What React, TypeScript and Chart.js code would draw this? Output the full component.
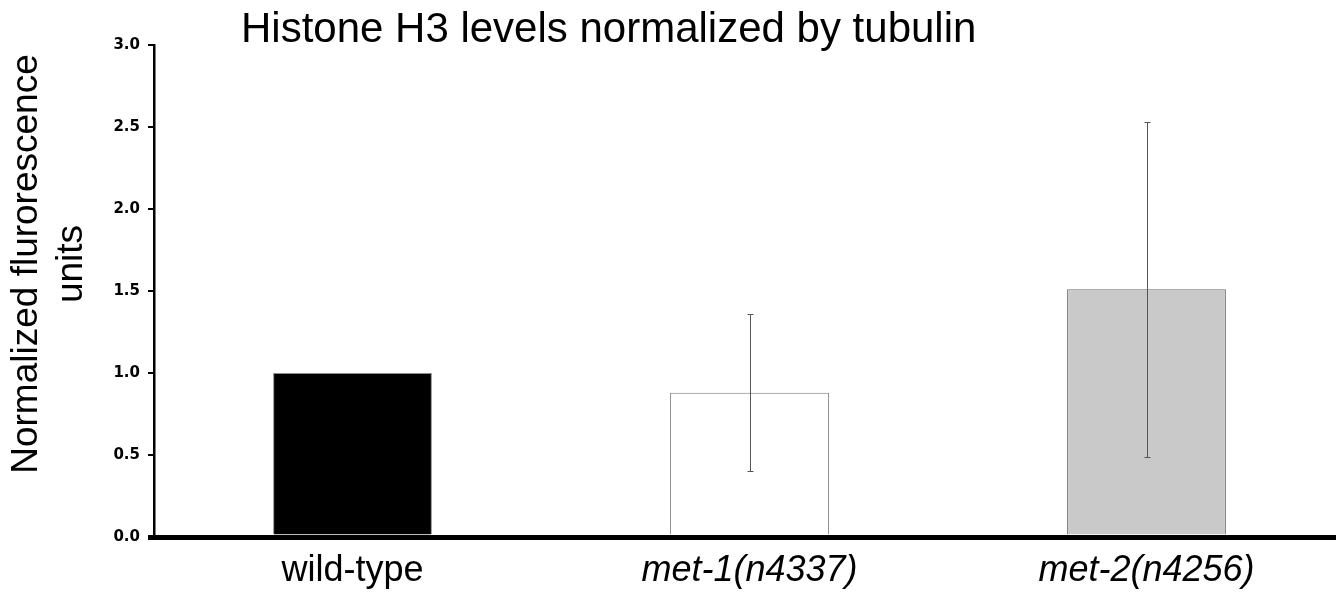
import React, { useEffect, useRef } from 'react';
import { Chart, registerables } from 'chart.js';

Chart.register(...registerables);

// ---- data ----
const categories = ['wild-type', 'met-1(n4337)', 'met-2(n4256)'];
const italicLabels = [false, true, true];
const means = [1.0, 0.88, 1.51];
const errors = [0, 0.48, 1.02];
const barColors = ['#000000', '#ffffff', '#c9c9c9'];
const barBorders = ['#8a8a8a', '#7a7a7a', '#6a6a6a'];
const yMin = 0;
const yMax = 3;
const yStep = 0.5;
const titleText = 'Histone H3 levels normalized by tubulin';
const yTitleLines = ['Normalized flurorescence', 'units'];

const SANS = '"Liberation Sans", Arial, Helvetica, sans-serif';

const textPlugin = {
  id: 'customTexts',
  afterDraw(chart: any) {
    const { ctx, chartArea } = chart;
    ctx.save();
    ctx.fillStyle = '#000000';
    ctx.textBaseline = 'alphabetic';
    ctx.textAlign = 'left';
    ctx.font = `42px ${SANS}`;
    ctx.fillText(titleText, chartArea.left + 87, 42);

    ctx.font = `37px ${SANS}`;
    ctx.textAlign = 'center';
    const cy = (chartArea.top + chartArea.bottom) / 2 - 27;
    ctx.rotate(-Math.PI / 2);
    ctx.fillText(yTitleLines[0], -cy, 37);
    ctx.fillText(yTitleLines[1], -cy, 82);
    ctx.restore();
  },
};

const errorBarPlugin = {
  id: 'errorBars',
  afterDatasetsDraw(chart: any) {
    const { ctx } = chart;
    const meta = chart.getDatasetMeta(0);
    const yScale = chart.scales.y;
    ctx.save();
    ctx.strokeStyle = '#555555';
    ctx.lineWidth = 1;
    meta.data.forEach((bar: any, i: number) => {
      const err = errors[i];
      if (!err) return;
      const x = Math.round(bar.x) + 0.5;
      const yTop = Math.round(yScale.getPixelForValue(means[i] + err)) + 0.5;
      const yBot = Math.round(yScale.getPixelForValue(means[i] - err)) + 0.5;
      const cap = 3;
      ctx.beginPath();
      ctx.moveTo(x, yTop);
      ctx.lineTo(x, yBot);
      ctx.moveTo(x - cap, yTop);
      ctx.lineTo(x + cap, yTop);
      ctx.moveTo(x - cap, yBot);
      ctx.lineTo(x + cap, yBot);
      ctx.stroke();
    });
    ctx.restore();
  },
};

export default function App() {
  const canvasRef = useRef<HTMLCanvasElement | null>(null);

  useEffect(() => {
    if (!canvasRef.current) return;
    const chart = new Chart(canvasRef.current, {
      type: 'bar',
      data: {
        labels: categories,
        datasets: [
          {
            data: means,
            backgroundColor: barColors,
            borderColor: barBorders,
            borderWidth: 1,
            barPercentage: 0.4,
            categoryPercentage: 1,
          },
        ],
      },
      options: {
        responsive: false,
        animation: false,
        devicePixelRatio: 1,
        layout: { padding: { top: 45, left: 0, right: 1, bottom: 0 } },
        plugins: {
          legend: { display: false },
          title: { display: false },
          tooltip: { enabled: false },
        },
        scales: {
          x: {
            type: 'category',
            offset: true,
            grid: { display: false, drawTicks: false },
            border: { display: true, color: '#000000', width: 5 },
            ticks: {
              color: '#000000',
              padding: 12,
              autoSkip: false,
              maxRotation: 0,
              minRotation: 0,
              font: (c: any) => ({
                family: SANS,
                size: 36,
                style: italicLabels[c.index] ? 'italic' : 'normal',
              }),
            },
            afterFit: (scale: any) => {
              scale.height = 60;
            },
          },
          y: {
            min: yMin,
            max: yMax,
            grid: {
              display: true,
              drawOnChartArea: false,
              drawTicks: true,
              tickLength: 6,
              color: '#000000',
              lineWidth: (c: any) => (c.index === 0 ? 5 : 2),
            },
            border: { display: true, color: '#000000', width: 2.5 },
            ticks: {
              stepSize: yStep,
              color: '#000000',
              padding: 8,
              font: { family: '"DejaVu Sans", sans-serif', size: 15, weight: 'bold' },
              callback: (v: any) => Number(v).toFixed(1),
            },
            afterFit: (scale: any) => {
              scale.width = 154;
            },
          },
        },
      },
      plugins: [errorBarPlugin, textPlugin],
    });
    return () => chart.destroy();
  }, []);

  return (
    <div
      style={{
        position: 'absolute',
        left: 0,
        top: 0,
        width: 1336,
        height: 597,
        overflow: 'hidden',
        background: '#ffffff',
      }}
    >
      <canvas ref={canvasRef} width={1346} height={597} style={{ display: 'block' }} />
    </div>
  );
}
